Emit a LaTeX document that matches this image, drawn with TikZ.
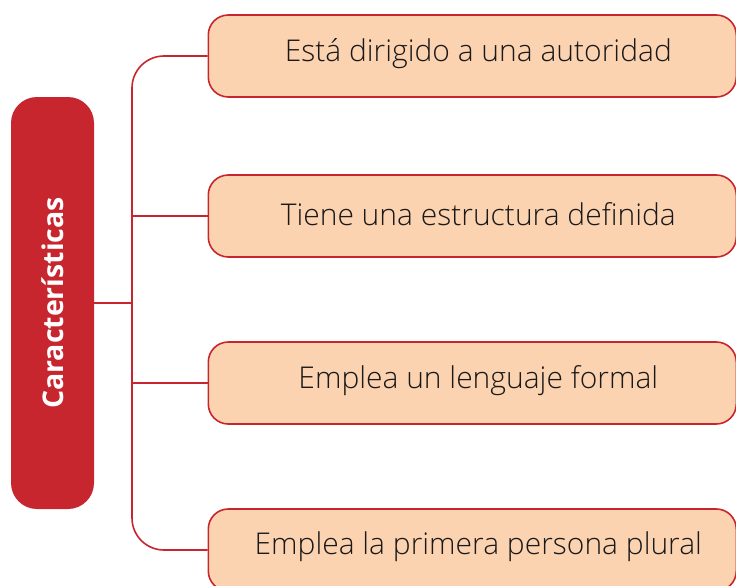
\documentclass[tikz,border=0pt]{standalone}
\usepackage{fontspec}
\setmainfont{Open Sans}[UprightFont=* Light, BoldFont=* Bold]
\definecolor{cred}{HTML}{C8262F}
\definecolor{cpeach}{HTML}{FCD3B1}
\begin{document}
\begin{tikzpicture}[x=1pt,y=-1pt,
  item/.style={draw=cred, line width=1.6pt, fill=cpeach, rounded corners=20pt,
    minimum width=528pt, minimum height=82pt, anchor=west, inner sep=0pt},
  itemtext/.style={font=\fontsize{30}{34}\selectfont, text=black!90},
  conn/.style={draw=cred, line width=1.6pt}]
\useasboundingbox (0,0) rectangle (736,586);
\node[fill=cred, rounded corners=26pt, minimum width=83pt, minimum height=412pt, inner sep=0pt] (main) at (52.5,303) {};
\node[rotate=90, text=white, font=\bfseries\fontsize{28.5}{32}\selectfont] (lbl) at (main.center) {Características};
\node[item] (b1) at (207.5,56) {};
\node[item] (b2) at (207.5,216) {};
\node[item] (b3) at (207.5,383) {};
\node[item] (b4) at (207.5,550) {};
\node[itemtext] (t1) at ([xshift=6pt,yshift=2pt]b1.center) {Está dirigido a una autoridad};
\node[itemtext] (t2) at ([xshift=6pt,yshift=2pt]b2.center) {Tiene una estructura definida};
\node[itemtext] (t3) at ([xshift=6pt,yshift=2pt]b3.center) {Emplea un lenguaje formal};
\node[itemtext] (t4) at ([xshift=6pt,yshift=3pt]b4.center) {Emplea la primera persona plural};
\coordinate (j) at (132,303);
\draw[conn] (main.east) -- (j);
\draw[conn, rounded corners=32pt] (b1.west) -| (j) |- (b4.west);
\draw[conn] (b2.west) -- (b2.west -| j);
\draw[conn] (b3.west) -- (b3.west -| j);
\end{tikzpicture}
\end{document}
